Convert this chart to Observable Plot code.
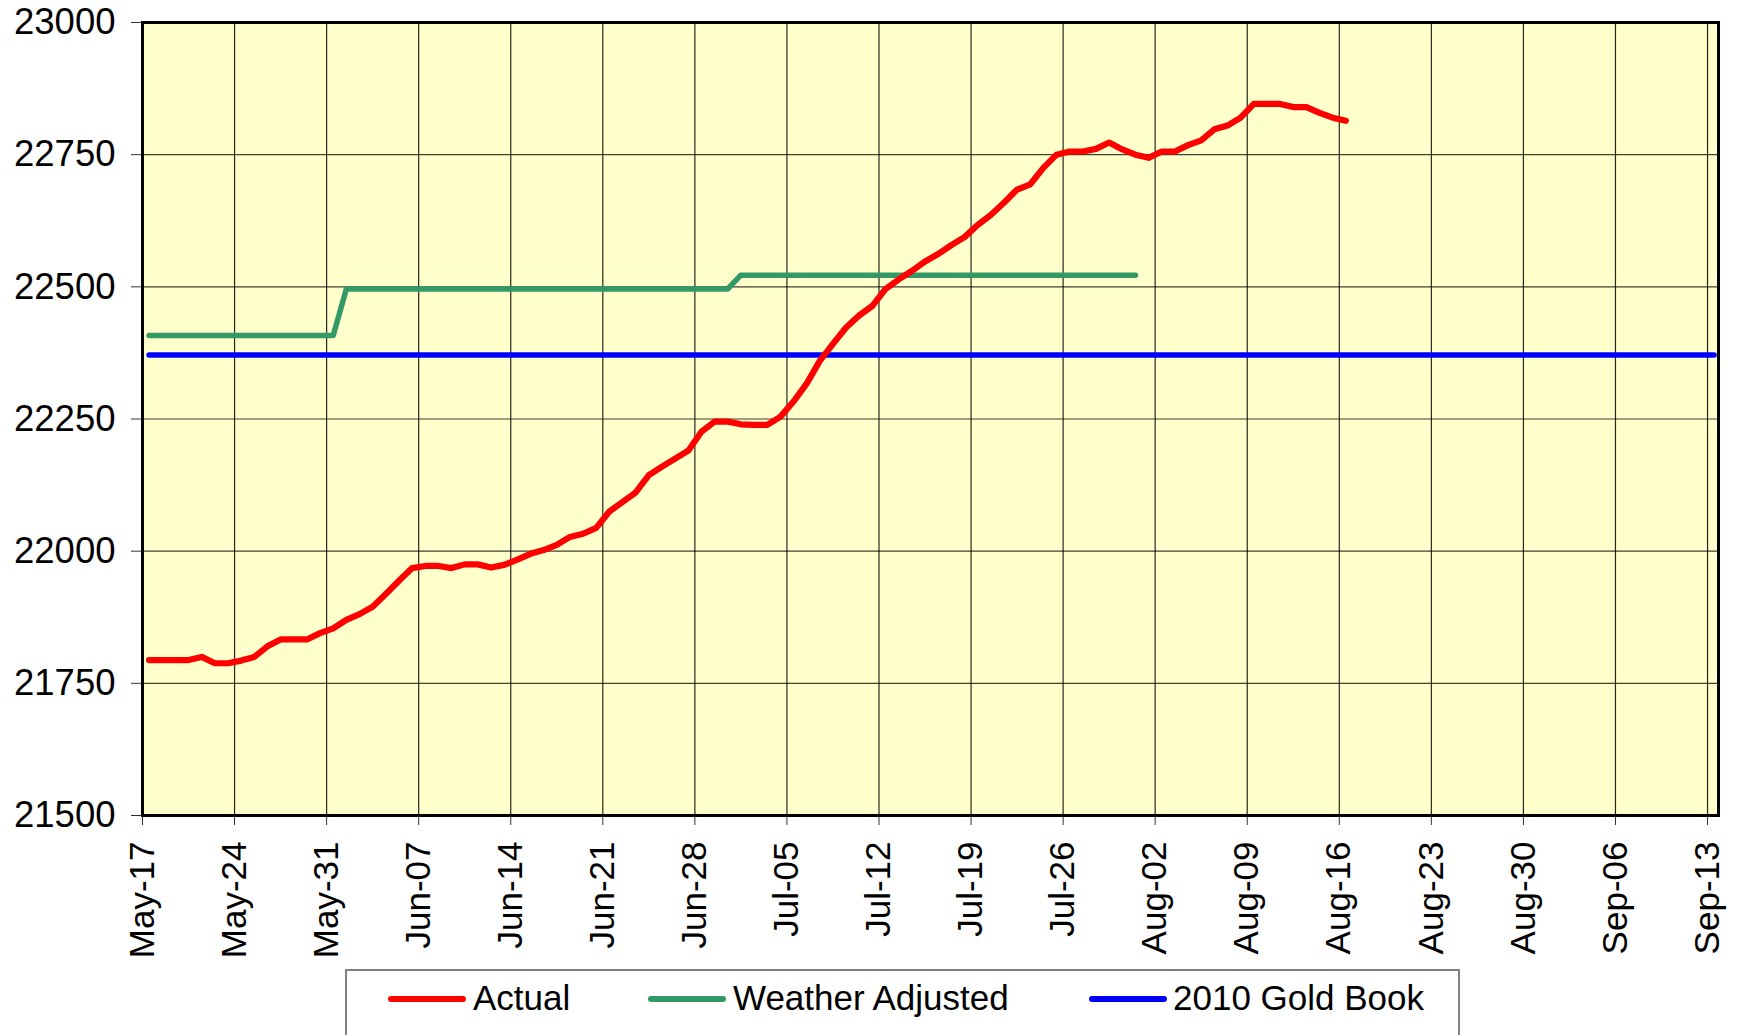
<!DOCTYPE html>
<html>
<head>
<meta charset="utf-8">
<script src="https://cdn.jsdelivr.net/npm/d3@7"></script>
<script src="https://cdn.jsdelivr.net/npm/@observablehq/plot@0.6"></script>
<style>
  html, body { margin: 0; padding: 0; background: #ffffff; }
  body { width: 1744px; height: 1035px; position: relative; overflow: hidden; font-family: "Liberation Sans", Arial, sans-serif; }
  #legend { position: absolute; left: 345px; top: 969px; width: 1115px; height: 100px; border: 2px solid #808080; box-sizing: border-box; }
  .sw { position: absolute; height: 6px; border-radius: 3px; top: 25px; }
  .lt { position: absolute; top: 7px; font-size: 35px; line-height: 40px; color: #000; white-space: nowrap; }
</style>
</head>
<body>
<div id="chart"></div>
<div id="legend"></div>
<script>
// ---- data ----
const startDate = "2010-05-17";           // first daily point of every series
const actualValues = [
  21794, 21794, 21794, 21794, 21800, 21788, 21788, 21793, 21800, 21820,
  21833, 21833, 21833, 21845, 21854, 21870, 21881, 21895, 21919, 21944,
  21968, 21972, 21972, 21968, 21975, 21975, 21969, 21974, 21984, 21995,
  22002, 22012, 22027, 22033, 22044, 22075, 22093, 22111, 22144, 22160,
  22175, 22190, 22226, 22245, 22245, 22240, 22239, 22239, 22254, 22283,
  22317, 22360, 22392, 22423, 22446, 22464, 22496, 22514, 22530, 22548,
  22562, 22579, 22594, 22617, 22636, 22659, 22684, 22694, 22725, 22750,
  22756, 22756, 22761, 22773, 22760, 22750, 22744, 22756, 22756, 22768,
  22777, 22798, 22805, 22820, 22846, 22846, 22846, 22840, 22840, 22829,
  22820, 22814
];
const weatherFrom   = ["2010-05-17", "2010-06-01", "2010-07-01"];
const weatherTo     = ["2010-05-31", "2010-06-30", "2010-07-31"];
const weatherValues = [22408, 22496, 22522];
const goldBookFrom  = "2010-05-17";
const goldBookTo    = "2010-09-13";
const goldBookValue = 22371;
const xTickDates = ["2010-05-17","2010-05-24","2010-05-31","2010-06-07","2010-06-14","2010-06-21",
  "2010-06-28","2010-07-05","2010-07-12","2010-07-19","2010-07-26","2010-08-02","2010-08-09",
  "2010-08-16","2010-08-23","2010-08-30","2010-09-06","2010-09-13"];
const yTicks = [21500, 21750, 22000, 22250, 22500, 22750, 23000];
const xDomainEnd = "2010-09-14";
const seriesNames  = ["Actual", "Weather Adjusted", "2010 Gold Book"];
const seriesColors = ["#ff0000", "#339966", "#0000ff"];

// ---- build tables ----
const parse = s => new Date(s + "T00:00:00Z");
const mid = d => d3.utcHour.offset(d, 12);
const actual = actualValues.map((v, i) => ({date: mid(d3.utcDay.offset(parse(startDate), i)), value: v}));
const weather = [];
weatherFrom.forEach((f, k) => {
  d3.utcDay.range(parse(f), d3.utcDay.offset(parse(weatherTo[k]), 1)).forEach(d => weather.push({date: mid(d), value: weatherValues[k]}));
});
const gold = d3.utcDay.range(parse(goldBookFrom), d3.utcDay.offset(parse(goldBookTo), 1)).map(d => ({date: mid(d), value: goldBookValue}));

const chart = Plot.plot({
  width: 1744,
  height: 968,
  marginLeft: 142,
  marginRight: 26,
  marginTop: 22,
  marginBottom: 153,
  style: {fontFamily: "'Liberation Sans', Arial, sans-serif", fontSize: "35px", color: "#000", background: "#fff", overflow: "visible"},
  x: {type: "utc", domain: [parse(startDate), d3.utcHour.offset(parse(xDomainEnd), -4)]},
  y: {domain: [yTicks[0], yTicks[yTicks.length - 1]]},
  marks: [
    Plot.frame({fill: "#ffffcc", stroke: null}),
    Plot.gridX(xTickDates.map(parse), {stroke: "#000", strokeOpacity: 0.85, strokeWidth: 1.2}),
    Plot.gridY(yTicks, {stroke: "#000", strokeOpacity: 0.75, strokeWidth: 1.2}),
    Plot.line(gold, {x: "date", y: "value", stroke: seriesColors[2], strokeWidth: 5.5, strokeLinecap: "round"}),
    Plot.line(weather, {x: "date", y: "value", stroke: seriesColors[1], strokeWidth: 5.5, strokeLinecap: "round", strokeLinejoin: "round"}),
    Plot.line(actual, {x: "date", y: "value", stroke: seriesColors[0], strokeWidth: 6.2, strokeLinecap: "round", strokeLinejoin: "round"}),
    Plot.frame({stroke: "#000", strokeWidth: 3}),
    Plot.axisY({ticks: yTicks, tickFormat: d3.format("d"), tickSize: 11, tickPadding: 16, fontSize: 36.5, label: null, stroke: "#000", strokeOpacity: 0.8}),
    Plot.axisX({ticks: xTickDates.map(parse), tickFormat: d3.utcFormat("%b-%d"), tickRotate: -90, tickSize: 10, tickPadding: 16, label: null, stroke: "#000", strokeOpacity: 0.8})
  ]
});
document.getElementById("chart").appendChild(chart);

// ---- legend ----
const legend = document.getElementById("legend");
const swatchX = [41, 301, 742];
const textX = [126, 386, 826];
seriesNames.forEach((n, i) => {
  const s = document.createElement("div");
  s.className = "sw"; s.style.left = swatchX[i] + "px"; s.style.width = "78px"; s.style.background = seriesColors[i];
  legend.appendChild(s);
  const t = document.createElement("div");
  t.className = "lt"; t.style.left = textX[i] + "px"; t.textContent = n;
  legend.appendChild(t);
});
</script>
</body>
</html>
